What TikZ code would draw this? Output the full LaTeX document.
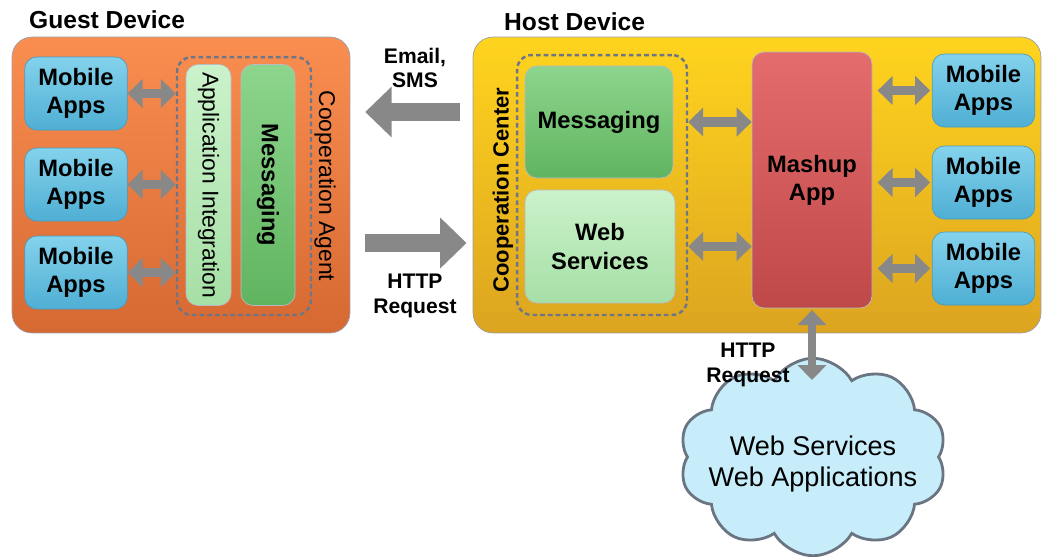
\documentclass[tikz,border=0pt]{standalone}
\usepackage{fontspec}
\setmainfont{Liberation Sans}
\usepackage{tikz}
\usetikzlibrary{positioning,arrows.meta,shapes.symbols}

\definecolor{guesttop}{HTML}{FA8E50}
\definecolor{guestbot}{HTML}{D66932}
\definecolor{hosttop}{HTML}{FFD41E}
\definecolor{hostbot}{HTML}{DCA420}
\definecolor{apptop}{HTML}{84D2EC}
\definecolor{appbot}{HTML}{4FAFD4}
\definecolor{appedge}{HTML}{4A9CC2}
\definecolor{lgreentop}{HTML}{CBF2CB}
\definecolor{lgreenbot}{HTML}{A6DFA6}
\definecolor{greentop}{HTML}{8DD58D}
\definecolor{greenbot}{HTML}{60B460}
\definecolor{redtop}{HTML}{E46C6C}
\definecolor{redbot}{HTML}{BF4848}
\definecolor{edgegray}{HTML}{9A9EA6}
\definecolor{dashgray}{HTML}{6C7686}
\definecolor{arrowgray}{HTML}{888888}
\definecolor{cloudfill}{HTML}{C8EDFA}
\definecolor{cloudedge}{HTML}{6B7582}

\begin{document}
\begin{tikzpicture}[x=0.02cm, y=-0.02cm,
    font=\bfseries\fontsize{13.5}{16}\selectfont,
    device/.style={draw=edgegray, rounded corners=0.4cm},
    title/.style={anchor=west, font=\bfseries\fontsize{14}{17}\selectfont},
    apps/.style={draw=appedge, rounded corners=0.24cm, top color=apptop, bottom color=appbot,
        minimum width=2.05cm, minimum height=1.46cm, align=center, inner sep=0pt},
    block/.style={draw=edgegray!70, rounded corners=0.24cm, align=center, inner sep=0pt},
    dashbox/.style={draw=dashgray, line width=1.4pt, dash pattern=on 2.6pt off 1.8pt, rounded corners=0.3cm},
    sidetext/.style={font=\mdseries\fontsize{13}{16}\selectfont},
    link/.style={draw=arrowgray, line width=5.5pt, arrows={Triangle[width=16pt,length=8.5pt]-Triangle[width=16pt,length=8.5pt]}},
    bigarrow/.style={draw=arrowgray, line width=10pt, arrows={-Triangle[width=28pt,length=15pt]}},
    arrowtext/.style={align=center, font=\bfseries\fontsize{12}{14}\selectfont}]

    \useasboundingbox (0,0) rectangle (1043,556);

    % guest side
    \node (guest) [device, top color=guesttop, bottom color=guestbot, minimum width=6.76cm, minimum height=5.92cm] at (181,185) {};
    \node (guesttitle) [title] at (23,20) {Guest Device};
    \node (gapps1) [apps] at (76,93.5) {Mobile\\Apps};
    \node (gapps2) [apps] at (76,184.5) {Mobile\\Apps};
    \node (gapps3) [apps] at (76,272.5) {Mobile\\Apps};
    \node (agent) [dashbox, minimum width=2.68cm, minimum height=5.16cm] at (244,186) {};
    \node (appint) [block, rotate=-90, top color=lgreentop, bottom color=lgreenbot, minimum width=4.82cm, minimum height=0.9cm, sidetext] at (208.5,185) {Application Integration};
    \node (gmsg) [block, rotate=-90, top color=greentop, bottom color=greenbot, minimum width=4.82cm, minimum height=1.08cm] at (268,185) {Messaging};
    \node (agenttext) [sidetext, rotate=-90] at (325,186) {Cooperation Agent};

    \foreach \i in {1,2,3}
        \draw [link] (gapps\i.east) -- (gapps\i.east -| agent.west);

    % host side
    \node (host) [device, top color=hosttop, bottom color=hostbot, minimum width=11.36cm, minimum height=5.92cm] at (757,185) {};
    \node (hosttitle) [title] at (498,22) {Host Device};
    \node (center) [dashbox, minimum width=3.4cm, minimum height=5.2cm] at (602,185) {};
    \node (hmsg) [block, top color=greentop, bottom color=greenbot, minimum width=2.96cm, minimum height=2.24cm] at (599,122) {Messaging};
    \node (hws) [block, top color=lgreentop, bottom color=lgreenbot, minimum width=3.0cm, minimum height=2.26cm] at (600,246.5) {Web\\Services};
    \node (centertext) [rotate=90, font=\bfseries\fontsize{12.5}{15}\selectfont] at (503,190) {Cooperation Center};
    \node (mashup) [block, top color=redtop, bottom color=redbot, minimum width=2.4cm, minimum height=5.12cm] at (812,180) {Mashup\\App};
    \node (happs1) [apps] at (983.5,90.5) {Mobile\\Apps};
    \node (happs2) [apps] at (983.5,182.5) {Mobile\\Apps};
    \node (happs3) [apps] at (983.5,268.5) {Mobile\\Apps};

    \draw [link] (mashup.west |- hmsg.east) -- (center.east |- hmsg.east);
    \draw [link] (mashup.west |- hws.east) -- (center.east |- hws.east);
    \foreach \i in {1,2,3}
        \draw [link, shorten <=3pt, shorten >=1pt] (mashup.east |- happs\i.west) -- (happs\i.west);

    % between the devices
    \draw [bigarrow, shorten <=7.5pt, shorten >=8.5pt] (host.west |- 0,112) -- (guest.east |- 0,112);
    \draw [bigarrow, shorten <=8.5pt, shorten >=3.5pt] (guest.east |- 0,243) -- (host.west |- 0,243);
    \node (mailtext) [arrowtext] at (415,68) {Email,\\SMS};
    \node (httptext) [arrowtext] at (415,296) {HTTP\\Request};

    % the web
    \node (cloud) [cloud, cloud puffs=10, cloud puff arc=120, aspect=1.35, draw=cloudedge, line width=1.6pt, fill=cloudfill,
        minimum width=5.35cm, minimum height=3.95cm] at (813,457) {};
    \node (webapps) [align=center, font=\mdseries\fontsize{15.4}{18}\selectfont] at (813,464) {Web Services\\Web Applications};
    \coordinate (cloudtop) at (812,380);
    \draw [link, line width=4.5pt, shorten <=1pt] (mashup.south) -- (cloudtop);
    \node (webtext) [arrowtext] at (748,365) {HTTP\\Request};

\end{tikzpicture}
\end{document}
